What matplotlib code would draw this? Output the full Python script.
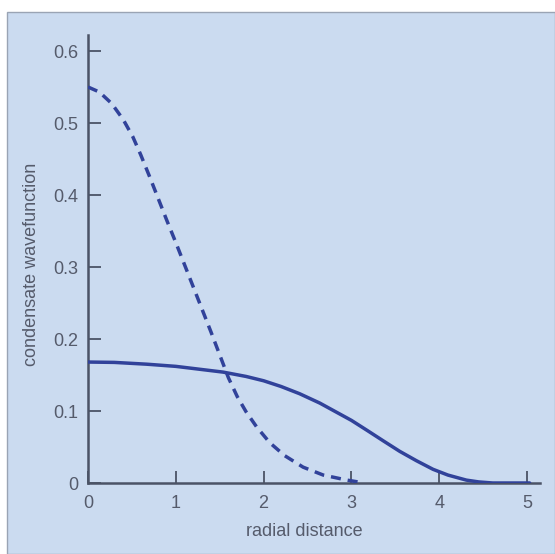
import matplotlib
matplotlib.use("Agg")
import matplotlib.pyplot as plt
from matplotlib.patches import Rectangle

# ---- data ----
dashed_x = [0.0, 0.13, 0.27, 0.40, 0.51, 0.60, 0.70, 0.80, 0.90, 1.00, 1.10, 1.20, 1.30,
            1.40, 1.50, 1.60, 1.70, 1.80, 1.92, 2.07, 2.24, 2.45, 2.68, 2.95, 3.10]
dashed_y = [0.550, 0.543, 0.527, 0.505, 0.481, 0.456, 0.426, 0.395, 0.364, 0.334, 0.303, 0.272, 0.241,
            0.210, 0.178, 0.146, 0.120, 0.099, 0.078, 0.056, 0.038, 0.022, 0.011, 0.004, 0.001]

solid_x = [0.0, 0.3, 0.67, 1.0, 1.54, 1.8, 2.0, 2.2, 2.41, 2.64, 2.79, 3.0, 3.18, 3.37,
           3.55, 3.74, 3.93, 4.1, 4.31, 4.45, 4.61, 5.03]
solid_y = [0.168, 0.1675, 0.165, 0.162, 0.154, 0.148, 0.142, 0.134, 0.124, 0.111, 0.101, 0.087,
           0.073, 0.058, 0.044, 0.031, 0.019, 0.011, 0.004, 0.0015, 0.0, 0.0]

x_ticks = [0, 1, 2, 3, 4, 5]
y_ticks = [0, 0.1, 0.2, 0.3, 0.4, 0.5, 0.6]
y_tick_labels = ["0", "0.1", "0.2", "0.3", "0.4", "0.5", "0.6"]
x_label = "radial distance"
y_label = "condensate wavefunction"

# ---- styling ----
W, H = 555, 554
panel_color = "#cbdbf0"
line_color = "#31429a"
axis_color = "#4b5366"
text_color = "#555b6b"

plt.rcParams["font.family"] = ["Liberation Sans", "DejaVu Sans"]

fig = plt.figure(figsize=(W / 100, H / 100), dpi=100)
fig.patch.set_facecolor("white")
panel = Rectangle((7 / W, 0), 1 - 7 / W, 1 - 12 / H, transform=fig.transFigure,
                  facecolor=panel_color, edgecolor="#9aa4b4", linewidth=1.0, zorder=-10)
fig.add_artist(panel)

x0, y0, x1, y1 = 88, 483, 540, 35
ax = fig.add_axes([x0 / W, (H - y0) / H, (x1 - x0) / W, (y0 - y1) / H])
ax.set_facecolor("none")
ax.set_zorder(5)

ax.plot(solid_x, solid_y, color=line_color, linewidth=2.5, solid_capstyle="round", zorder=3)
ax.plot(dashed_x, dashed_y, color=line_color, linewidth=2.5, dashes=(2.9, 2.0),
        dash_capstyle="butt", zorder=3)

ax.set_xlim(0, (x1 - x0) / 87.8)
ax.set_ylim(0, (y0 - y1) / 720)

for s in ["top", "right"]:
    ax.spines[s].set_visible(False)
for s in ["left", "bottom"]:
    ax.spines[s].set_color(axis_color)
    ax.spines[s].set_linewidth(1.8)

ax.set_xticks(x_ticks)
ax.set_yticks(y_ticks)
ax.set_yticklabels(y_tick_labels)
ax.tick_params(axis="both", direction="in", length=9, width=1.3, color=axis_color,
               labelcolor=text_color, labelsize=13)
ax.tick_params(axis="x", pad=9)
ax.tick_params(axis="y", pad=7)

ax.set_xlabel(x_label, color=text_color, fontsize=13)
ax.set_ylabel(y_label, color=text_color, fontsize=13)
ax.xaxis.set_label_coords((304 - x0) / (x1 - x0), -(532 - y0) / (y0 - y1), transform=ax.transAxes)
ax.xaxis.label.set_va("center")
ax.yaxis.set_label_coords(-(x0 - 32) / (x1 - x0), (y0 - 264) / (y0 - y1), transform=ax.transAxes)
ax.yaxis.label.set_va("center")

fig.savefig("out.png", dpi=100, facecolor=fig.get_facecolor())
